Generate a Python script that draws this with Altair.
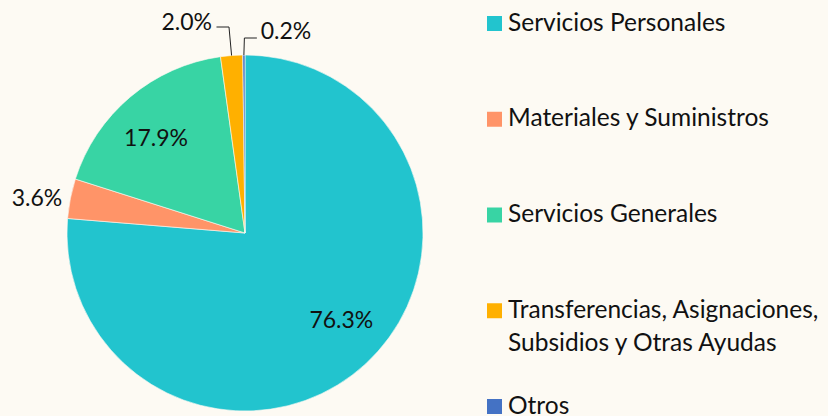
import math
import altair as alt
import pandas as pd

# ---- data ----
categories = [
    "Servicios Personales",
    "Materiales y Suministros",
    "Servicios Generales",
    "Transferencias, Asignaciones, Subsidios y Otras Ayudas",
    "Otros",
]
legend_line1 = [
    "Servicios Personales",
    "Materiales y Suministros",
    "Servicios Generales",
    "Transferencias, Asignaciones,",
    "Otros",
]
legend_line2 = ["", "", "", "Subsidios y Otras Ayudas", ""]
values = [76.3, 3.6, 17.9, 2.0, 0.2]
labels = ["76.3%", "3.6%", "17.9%", "2.0%", "0.2%"]
colors = ["#22C4CE", "#FF9468", "#38D4A4", "#FFB000", "#4472C4"]

BG = "#FDFAF3"
FONT = "Lato"
FS = 23
LFS = 24.5
CX, CY, R = 245, 233, 178

df = pd.DataFrame({
    "idx": list(range(len(categories))),
    "cat": categories,
    "value": values,
    "label": labels,
    "l1": legend_line1,
    "l2": legend_line2,
})

color_scale = alt.Scale(domain=categories, range=colors)
theta = alt.Theta("value:Q", stack=True)
order = alt.Order("idx:Q")

base = alt.Chart(df)

arcs = base.mark_arc(radius=R, stroke=BG, strokeWidth=0.6).encode(
    theta=theta,
    order=order,
    color=alt.Color("cat:N", scale=color_scale, legend=None),
    x=alt.value(CX),
    y=alt.value(CY),
)


def pie_label(i, radius, dx, dy, align="center"):
    return base.transform_calculate(
        t=f"datum.idx == {i} ? datum.label : ''"
    ).mark_text(
        radius=radius, dx=dx, dy=dy, align=align, baseline="middle",
        font=FONT, fontSize=FS, color="#111111",
    ).encode(
        theta=theta, order=order, text="t:N", x=alt.value(CX), y=alt.value(CY)
    )


lab_layers = [
    pie_label(0, 120, 15, 0),
    pie_label(1, 210, -2, 7),
    pie_label(2, 124, -9, 1),
    pie_label(3, 212, -17, 1, "right"),
    pie_label(4, 202, 17, 1, "left"),
]

# leader lines for the two small slices, derived from the slice geometry
total = sum(values)
cum = 0.0
mids = []
for v in values:
    mids.append((cum + v / 2) / total * 2 * math.pi)
    cum += v
pts = []
for i, hy, side in [(3, 27, -1), (4, 38, 1)]:
    a = mids[i]
    ex, ey = CX + R * math.sin(a), CY - R * math.cos(a)
    bx = ex - 2.6 if side < 0 else ex + 0.5
    pts += [
        {"g": i, "o": 0, "px": ex, "py": ey},
        {"g": i, "o": 1, "px": bx, "py": hy},
        {"g": i, "o": 2, "px": bx + side * 12.5, "py": hy},
    ]
leaders = alt.Chart(pd.DataFrame(pts)).mark_line(
    color="#222222", strokeWidth=1
).encode(
    x=alt.X("px:Q", scale=None, axis=None),
    y=alt.Y("py:Q", scale=None, axis=None),
    detail="g:N",
    order="o:Q",
)

# legend drawn from the same categories, rows on a point scale
ly = alt.Y("cat:N", sort=categories,
           scale=alt.Scale(type="point", domain=categories,
                           range=[23.5, 406.5], padding=0),
           axis=None)
leg_sq = base.mark_square(size=225, opacity=1).encode(
    x=alt.value(494.5), y=ly,
    color=alt.Color("cat:N", scale=color_scale, legend=None),
)
leg_t1 = base.mark_text(align="left", baseline="middle", font=FONT,
                        fontSize=LFS, color="#111111").encode(
    x=alt.value(508), y=ly, text="l1:N")
leg_t2 = base.mark_text(align="left", baseline="middle", font=FONT,
                        fontSize=LFS, color="#111111", dy=33).encode(
    x=alt.value(508), y=ly, text="l2:N")

chart = alt.layer(
    arcs, *lab_layers, leaders, leg_sq, leg_t1, leg_t2
).resolve_scale(
    y="independent", x="independent"
).properties(
    width=828, height=416, autosize=alt.AutoSizeParams(type="none"),
    padding=0, background=BG,
).configure_view(stroke=None)

chart.save("out.html", embed_options={"renderer": "svg", "actions": False})
